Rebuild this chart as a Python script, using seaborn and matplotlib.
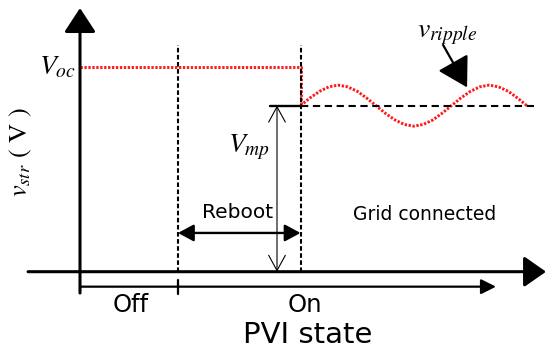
import matplotlib
matplotlib.use("Agg")
import matplotlib.pyplot as plt
import seaborn as sns
import pandas as pd

# ---- data (schematic units: time t, voltage v) ----
t_reboot = 2.0          # start of reboot
t_on = 4.5              # PVI on / grid connected
t_end = 9.51            # end of time axis
v_oc = 10.0             # open-circuit voltage
v_mp = 8.1              # maximum power voltage
v_top = 12.86           # top of voltage axis

# open-circuit segment (red dotted)
oc_t = [0.0, t_on, t_on]
oc_v = [v_oc, v_oc, v_mp]

# ripple
ripple_t = [4.50, 4.69, 4.89, 5.08, 5.27, 5.46, 5.66, 5.85, 6.04, 6.23, 6.43,
            6.62, 6.81, 7.00, 7.20, 7.39, 7.58, 7.77, 7.97, 8.16, 8.35, 8.54,
            8.74, 8.93, 9.12]
ripple_v = [8.10, 8.47, 8.80, 9.02, 9.10, 9.02, 8.80, 8.47, 8.10, 7.73, 7.40,
            7.18, 7.10, 7.18, 7.40, 7.73, 8.10, 8.47, 8.80, 9.02, 9.10, 9.02,
            8.80, 8.47, 8.10]

state_labels = ["Off", "On"]
state_t = [1.04, 4.59]

sns.set_style("white")
plt.rcParams["mathtext.fontset"] = "stix"
plt.rcParams["text.color"] = "black"

fig = plt.figure(figsize=(5.46, 3.53), dpi=100)
ax = fig.add_axes([0, 0, 1, 1])
px_x = 49.0
px_y = 20.5
ax.set_xlim(-80 / px_x, (546 - 80) / px_x)
ax.set_ylim(-(353 - 271.7) / px_y, 271.7 / px_y)
ax.axis("off")

red = "#ff1a1a"
dot = (0, (0.8, 0.55))
df_oc = pd.DataFrame({"t": oc_t, "v": oc_v})
sns.lineplot(data=df_oc, x="t", y="v", ax=ax, color=red, lw=2.1,
             linestyle=dot, sort=False, estimator=None)
df_r = pd.DataFrame({"t": ripple_t, "v": ripple_v})
sns.lineplot(data=df_r, x="t", y="v", ax=ax, color=red, lw=2.1,
             linestyle=dot, sort=False, estimator=None)

# dashed verticals
for tx in (t_reboot, t_on):
    ax.plot([tx, tx], [0, 11.06], color="black", lw=1.5,
            linestyle=(0, (2.2, 1.2)))
# dashed V_mp level
ax.plot([t_on, (535 - 80) / px_x], [v_mp, v_mp], color="black", lw=1.5,
        linestyle=(0, (3.5, 2.2)))
# solid short V_mp marker
ax.plot([(270 - 80) / px_x, t_on], [v_mp, v_mp], color="black", lw=1.7)

# y axis
ax.annotate("", xy=(0, v_top), xytext=(0, -1.04),
            arrowprops=dict(arrowstyle="-|>,head_length=0.55,head_width=0.36",
                            mutation_scale=27, lw=2.2, color="black",
                            shrinkA=0, shrinkB=0))
# x axis
ax.annotate("", xy=(t_end, 0), xytext=(-1.06, 0),
            arrowprops=dict(arrowstyle="-|>,head_length=0.5,head_width=0.35",
                            mutation_scale=27, lw=2.2, color="black",
                            shrinkA=0, shrinkB=0))
# state axis
ax.annotate("", xy=(8.49, -0.73), xytext=(0, -0.73),
            arrowprops=dict(arrowstyle="-|>,head_length=0.5,head_width=0.25",
                            mutation_scale=18, lw=1.6, color="black",
                            shrinkA=0, shrinkB=0))
ax.plot([t_reboot, t_reboot], [-0.40, -1.09], color="black", lw=1.6)

# V_mp double arrow
ax.annotate("", xy=((277 - 80) / px_x, v_mp), xytext=((277 - 80) / px_x, 0),
            arrowprops=dict(arrowstyle="<->,head_length=0.55,head_width=0.3",
                            mutation_scale=20, lw=0.8, color="black",
                            shrinkA=0, shrinkB=0))
# Reboot double arrow
ax.annotate("", xy=(t_on, 1.89), xytext=(t_reboot, 1.89),
            arrowprops=dict(arrowstyle="<|-|>,head_length=0.5,head_width=0.27",
                            mutation_scale=19, lw=1.7, color="black",
                            shrinkA=0, shrinkB=0))
# ripple pointer
ax.annotate("", xy=(7.90, 8.99), xytext=(7.41, 11.06),
            arrowprops=dict(arrowstyle="-|>,head_length=0.65,head_width=0.38",
                            mutation_scale=28, lw=1.6, color="black",
                            shrinkA=0, shrinkB=0))

# texts
ax.text(-0.08, v_oc, r"$V_{oc}$", ha="right", va="center", fontsize=20)
ax.text((270 - 80) / px_x, 6.08, r"$V_{mp}$", ha="right", va="center", fontsize=20)
ax.text(6.88, 11.64, r"$v_{ripple}$", ha="left", va="center", fontsize=20)
ax.text(-1.2, 5.84, r"$v_{str}$" + " ( V )", ha="center", va="center",
        rotation=90, fontsize=19, family="STIXGeneral")
ax.text(3.22, 2.9, "Reboot", ha="center", va="center", fontsize=14.5)
ax.text(7.04, 2.77, "Grid connected", ha="center", va="center", fontsize=13.5)
for lab, tx in zip(state_labels, state_t):
    ax.text(tx, -1.6, lab, ha="center", va="center", fontsize=17.5)
ax.text(4.65, -3.09, "PVI state", ha="center", va="center", fontsize=21)

fig.savefig("out.png", dpi=100)
